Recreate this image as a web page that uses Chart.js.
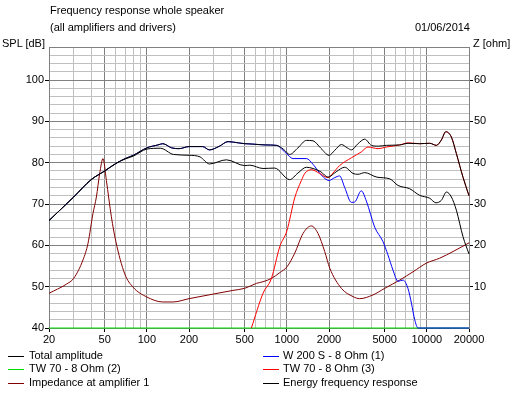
<!DOCTYPE html>
<html>
<head>
<meta charset="utf-8">
<script src="https://cdn.jsdelivr.net/npm/chart.js"></script>
<style>
  body { margin: 0; background: #fff; font-family: "Liberation Sans", Arial, sans-serif; font-size: 11px; color: #000; }
  #wrap { position: relative; width: 516px; height: 393px; }
  #box { position: absolute; left: 0; top: 0; width: 516px; height: 393px; }
  .txt { position: absolute; white-space: nowrap; line-height: 13px; }
  .swatch { position: absolute; width: 16px; height: 1px; background: #000; }
</style>
</head>
<body>
<div id="wrap">
  <div id="box"><canvas id="fr"></canvas></div>
  <div class="txt" style="left:50px; top:4px;">Frequency response whole speaker</div>
  <div class="txt" style="left:50px; top:21px;">(all amplifiers and drivers)</div>
  <div class="txt" style="right:46px; top:21px;">01/06/2014</div>
  <div class="txt" style="left:2px; top:37px;">SPL [dB]</div>
  <div class="txt" style="left:473px; top:37px;">Z [ohm]</div>

  <div class="swatch" style="left:8px; top:356px; background:#000000;"></div>
  <div class="txt" style="left:29px; top:349px;">Total amplitude</div>
  <div class="swatch" style="left:8px; top:369px; background:#00e000;"></div>
  <div class="txt" style="left:29px; top:362px;">TW 70 - 8 Ohm (2)</div>
  <div class="swatch" style="left:8px; top:383px; background:#800000;"></div>
  <div class="txt" style="left:29px; top:376px;">Impedance at amplifier 1</div>
  <div class="swatch" style="left:263px; top:356px; background:#0000ff;"></div>
  <div class="txt" style="left:283px; top:349px;">W 200 S - 8 Ohm (1)</div>
  <div class="swatch" style="left:263px; top:369px; background:#ff0000;"></div>
  <div class="txt" style="left:283px; top:362px;">TW 70 - 8 Ohm (3)</div>
  <div class="swatch" style="left:263px; top:383px; background:#000000;"></div>
  <div class="txt" style="left:283px; top:376px;">Energy frequency response</div>
</div>
<script>
// x axis: grid lines and which of them get a label
const xGrid = [20, 30, 40, 50, 60, 70, 80, 90, 100, 200, 300, 400, 500, 600, 700, 800, 900,
               1000, 2000, 3000, 4000, 5000, 6000, 7000, 8000, 9000, 10000, 20000];
const xLabels = [20, 50, 100, 200, 500, 1000, 2000, 5000, 10000, 20000];

// Total amplitude (dB)
const totalFreq = [20, 30, 40, 50, 60, 70, 80, 100, 120, 130, 150, 170, 200, 250, 280, 330, 380, 450, 500, 573, 700, 842,
                   950, 1047, 1200, 1380, 1538, 1750, 2000, 2200, 2452, 2700, 2892, 3200, 3600, 4020, 4500, 5140, 6400,
                   7340, 8890, 10480, 11700, 12700, 13650, 14970, 16250, 18120, 20000];
const totalDb = [66, 71.7, 75.9, 78, 79.8, 81, 81.8, 83.6, 84.3, 84.6, 83.6, 83.4, 83.9, 83.9, 83.1, 84.0, 85.1, 84.8, 84.6, 84.5, 84.3, 84.2,
                 83.2, 82.0, 83.6, 85.4, 85.3, 83.5, 81.8, 83.0, 84.4, 83.6, 83.1, 84.5, 85.7, 84.2, 84.0, 84.2, 84.3,
                 84.7, 84.6, 84.7, 84.2, 85.5, 87.5, 86.2, 82.2, 76.5, 72];

// Energy frequency response (dB)
const energyFreq = [20, 30, 40, 50, 60, 70, 80, 100, 125, 155, 200, 240, 280, 370, 500, 543, 676, 818, 1047, 1200, 1380, 1538,
                    1750, 1968, 2250, 2590, 2968, 3220, 3600, 4400, 5430, 6220, 7540, 8890, 10480, 11600, 12700, 13800,
                    14970, 16250, 18120, 20000];
const energyDb = [66, 71.7, 75.9, 78, 79.8, 80.9, 81.6, 83.3, 83.5, 82.0, 81.8, 81.4, 79.7, 80.7, 79.3, 79.4, 78.6, 78.7, 75.9, 77.5, 78.9, 78.6,
                  77.8, 76.5, 77.8, 78.9, 77.4, 77.2, 77.6, 76.5, 76.1, 74.5, 73.7, 72.1, 71.4, 70.3, 70.9, 72.9,
                  71.7, 68.5, 62.1, 57.9];

// W 200 S - 8 Ohm (1) (dB)
const wooferFreq = [20, 30, 40, 50, 60, 70, 80, 100, 120, 130, 150, 170, 200, 250, 280, 330, 380, 450, 500, 573, 700, 842,
                    993, 1107, 1380, 1538, 1764, 2000, 2200, 2380, 2590, 2892, 3053, 3400, 3700, 4240, 4860, 5270, 5730,
                    6220, 6760, 7340, 7760, 8190, 8650, 20000];
const wooferDb = [66, 71.7, 75.9, 78, 79.8, 81, 81.8, 83.6, 84.3, 84.6, 83.6, 83.4, 83.9, 83.9, 83.1, 84.0, 85.1, 84.8, 84.6, 84.5, 84.3, 84.2,
                  82.2, 81, 81, 79.6, 77, 75.7, 76.4, 76.8, 74, 70.4, 70.5, 73.2, 70.7, 64.4, 60.9, 57.7, 54,
                  51.3, 51.6, 49.5, 46, 42, 40, 40];

// TW 70 - 8 Ohm (3) (dB)
const tweeterFreq = [558, 676, 776, 890, 1000, 1138, 1270, 1350, 1497, 1716, 1968, 2136, 2380, 2892, 3400, 3800, 4480, 5140,
                     6400, 7340, 8890, 10480, 11700, 12700, 13650, 14970, 16250, 18120, 20000];
const tweeterDb = [40, 48.4, 52, 59.7, 63.5, 71.5, 75.7, 77.5, 78.3, 77.4, 76.4, 77.5, 79.3, 81.2, 82.6, 83.8, 83.4, 83.8,
                   84.3, 84.8, 84.6, 84.7, 84.2, 85.5, 87.5, 86.2, 82.2, 76.5, 72];

// TW 70 - 8 Ohm (2) (dB)
const tweeter2Freq = [20, 20000];
const tweeter2Db = [40, 40];

// Impedance at amplifier 1 (ohm, right axis)
const impFreq = [20, 26.6, 30, 35, 38, 41.2, 43.6, 46, 48.6, 51.4, 55.8, 60, 69.5, 79.6, 100, 130, 154, 200, 297, 412, 500,
                 606, 676, 776, 890, 1002, 1138, 1306, 1497, 1668, 1864, 2024, 2452, 2968, 3312, 4120, 5000, 6400, 7960,
                 9930, 12360, 15380, 20000];
const impOhm = [8.4, 10.6, 12, 16.5, 20.5, 27.7, 31.7, 37.3, 41, 35.7, 26.9, 21, 13.1, 9.9, 7.5, 6.3, 6.3, 7.1, 8.2, 9.1, 9.6,
                10.8, 11.2, 12, 13.4, 14.8, 18.1, 22.9, 24.7, 22.9, 18.5, 14.5, 9.6, 7.6, 7.1, 8, 9.6, 11.6, 13.6,
                15.7, 16.9, 18.5, 20.6];

function pts(fs, vs) {
    return fs.map((f, i) => ({ x: f, y: vs[i] }));
}

function line(label, fs, vs, color, axis) {
    return {
        label: label,
        data: pts(fs, vs),
        borderColor: color,
        borderWidth: 1,
        pointRadius: 0,
        cubicInterpolationMode: 'monotone',
        clip: 2,
        yAxisID: axis || 'y'
    };
}

const darkGrid = '#808080';
const lightGrid = '#c0c0c0';

const font = { family: '"Liberation Sans", Arial, sans-serif', size: 11 };

const frConfig = {
    type: 'line',
    data: {
        datasets: [
            line('Total amplitude', totalFreq, totalDb, '#000000'),
            line('Energy frequency response', energyFreq, energyDb, '#000000'),
            line('TW 70 - 8 Ohm (3)', tweeterFreq, tweeterDb, '#ff0000'),
            line('W 200 S - 8 Ohm (1)', wooferFreq, wooferDb, '#0000ff'),
            line('Impedance at amplifier 1', impFreq, impOhm, '#800000', 'y2'),
            line('TW 70 - 8 Ohm (2)', tweeter2Freq, tweeter2Db, '#00e000')
        ]
    },
    options: {
        responsive: true,
        maintainAspectRatio: false,
        animation: false,
        layout: { padding: { top: 47, left: 0, right: 0, bottom: 0 } },
        scales: {
            x: {
                type: 'logarithmic',
                min: 20,
                max: 20000,
                afterBuildTicks: axis => { axis.ticks = xGrid.map(v => ({ value: v })); },
                afterFit: axis => { axis.height = 65; },
                ticks: {
                    autoSkip: false,
                    maxRotation: 0,
                    padding: 1,
                    color: '#000',
                    font: font,
                    callback: v => xLabels.includes(v) ? String(v) : ''
                },
                grid: {
                    color: c => xLabels.includes(c.tick.value) ? darkGrid : lightGrid,
                    tickColor: c => xLabels.includes(c.tick.value) ? '#000' : 'rgba(0,0,0,0)',
                    tickLength: 4
                },
                border: { color: darkGrid }
            },
            y: {
                min: 40,
                max: 108,
                afterFit: axis => { axis.width = 49; },
                ticks: {
                    stepSize: 2,
                    autoSkip: false,
                    padding: 1,
                    color: '#000',
                    font: font,
                    callback: v => v % 10 === 0 ? String(v) : ''
                },
                grid: {
                    color: c => c.tick.value % 10 === 0 || c.tick.value === 108 ? darkGrid : lightGrid,
                    tickColor: c => c.tick.value % 10 === 0 ? '#000' : 'rgba(0,0,0,0)',
                    tickLength: 4
                },
                border: { color: darkGrid }
            },
            y2: {
                position: 'right',
                min: 0,
                max: 68,
                afterFit: axis => { axis.width = 47; },
                ticks: {
                    stepSize: 2,
                    autoSkip: false,
                    padding: 1,
                    color: '#000',
                    font: font,
                    callback: v => (v % 10 === 0 && v > 0) ? String(v) : ''
                },
                grid: {
                    drawOnChartArea: false,
                    tickColor: c => (c.tick.value % 10 === 0 && c.tick.value > 0) ? '#000' : 'rgba(0,0,0,0)',
                    tickLength: 4
                },
                border: { color: darkGrid }
            }
        },
        plugins: {
            legend: { display: false },
            tooltip: { enabled: false }
        }
    }
};

new Chart(document.getElementById('fr'), frConfig);
</script>
</body>
</html>
